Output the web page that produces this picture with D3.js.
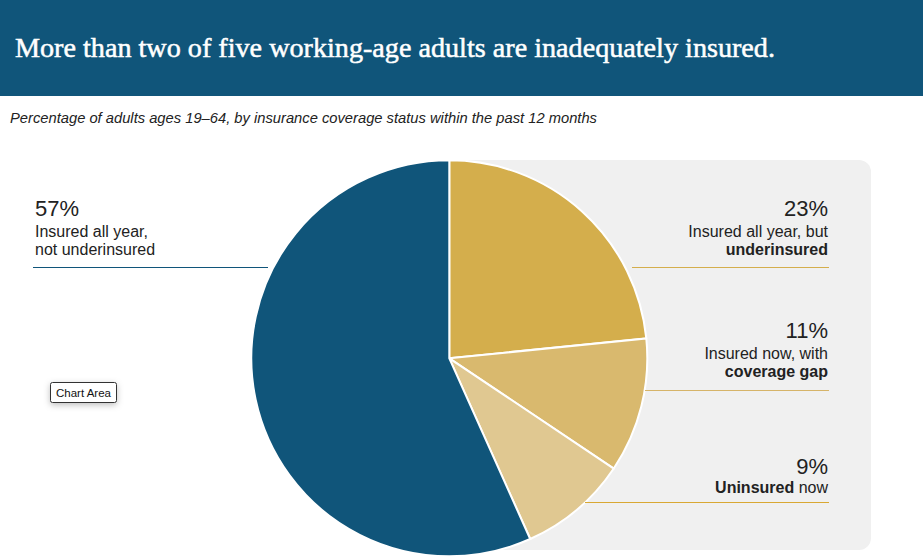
<!DOCTYPE html>
<html>
<head>
<meta charset="utf-8">
<script src="https://cdn.jsdelivr.net/npm/d3@7"></script>
<style>
  body { margin: 0; background: #fff; }
  svg { display: block; }
</style>
</head>
<body>
<div id="chart"></div>
<script>
const categories = ["Insured all year, but underinsured", "Insured now, with coverage gap", "Uninsured now", "Insured all year, not underinsured"];
const values = [23.4, 11.0, 8.9, 56.7];
const pctLabels = ["23%", "11%", "9%", "57%"];
const colors = ["#d4ae4c", "#d9b96e", "#e0c891", "#10557a"];
const lineColors = ["#d4ae4c", "#d6b469", "#d9a833", "#10557a"];
// label lines: [text, bold] pieces
const labelLines = [
    [[["Insured all year, but", false]], [["underinsured", true]]],
    [[["Insured now, with", false]], [["coverage gap", true]]],
    [[["Uninsured", true], [" now", false]]],
    [[["Insured all year,", false]], [["not underinsured", false]]]
];

const width = 923, height = 556;
const svg = d3.select("#chart").append("svg")
    .attr("width", width)
    .attr("height", height)
    .style("font-family", "Liberation Sans, Arial, sans-serif");

// header band
svg.append("rect").attr("width", width).attr("height", 96).attr("fill", "#10557a");
svg.append("text")
    .attr("x", 15).attr("y", 57)
    .attr("fill", "#fff")
    .attr("stroke", "#fff")
    .attr("stroke-width", 0.5)
    .attr("textLength", 760)
    .attr("lengthAdjust", "spacingAndGlyphs")
    .style("font-family", "Liberation Serif, serif")
    .style("font-size", "28px")
    .text("More than two of five working-age adults are inadequately insured.");

svg.append("text")
    .attr("x", 10).attr("y", 123)
    .attr("fill", "#222")
    .attr("textLength", 587)
    .attr("lengthAdjust", "spacingAndGlyphs")
    .style("font-size", "14px")
    .style("font-style", "italic")
    .text("Percentage of adults ages 19\u201364, by insurance coverage status within the past 12 months");

// gray panel
svg.append("rect")
    .attr("x", 436).attr("y", 160)
    .attr("width", 435).attr("height", 390)
    .attr("rx", 12)
    .attr("fill", "#f0f0f0");

const cx = 449.3, cy = 358.3, r = 198;
const pie = d3.pie().sort(null).value(d => d)(values);
const arc = d3.arc().innerRadius(0).outerRadius(r);

const g = svg.append("g").attr("transform", `translate(${cx},${cy})`);
g.selectAll("path")
    .data(pie)
    .enter().append("path")
    .attr("d", arc)
    .attr("fill", (d, i) => colors[i])
    .attr("stroke", "#fff")
    .attr("stroke-width", 2);

// labels
const labelPos = [
    {x: 828, y: 216, first: 21, anchor: "end", lineY: 267, lx0: 632, lx1: 829},
    {x: 828, y: 338, first: 21, anchor: "end", lineY: 390, lx0: 645, lx1: 829},
    {x: 828, y: 474, first: 19, anchor: "end", lineY: 502, lx0: 585, lx1: 829},
    {x: 35, y: 216, first: 21, anchor: "start", lineY: 267, lx0: 33, lx1: 268}
];

labelPos.forEach((p, i) => {
    svg.append("text")
        .attr("x", p.x).attr("y", p.y)
        .attr("text-anchor", p.anchor)
        .attr("fill", "#222")
        .style("font-size", "22px")
        .text(pctLabels[i]);
    labelLines[i].forEach((pieces, j) => {
        const t = svg.append("text")
            .attr("x", p.x).attr("y", p.y + p.first + j * 18)
            .attr("text-anchor", p.anchor)
            .attr("fill", "#222")
            .style("font-size", "16px");
        pieces.forEach(([txt, bold]) => {
            t.append("tspan")
                .style("font-weight", bold ? "bold" : "normal")
                .text(txt);
        });
    });
    svg.append("line")
        .attr("x1", p.lx0).attr("x2", p.lx1)
        .attr("y1", p.lineY + 0.5).attr("y2", p.lineY + 0.5)
        .attr("stroke", lineColors[i])
        .attr("stroke-width", 1);
});

// tooltip
const defs = svg.append("defs");
const f = defs.append("filter").attr("id", "sh").attr("x", "-50%").attr("y", "-50%").attr("width", "200%").attr("height", "200%");
f.append("feDropShadow").attr("dx", 0).attr("dy", 2).attr("stdDeviation", 3).attr("flood-opacity", 0.25);
svg.append("rect")
    .attr("x", 50.5).attr("y", 382.5)
    .attr("width", 66).attr("height", 20)
    .attr("rx", 2)
    .attr("fill", "#fff")
    .attr("stroke", "#333")
    .attr("filter", "url(#sh)");
svg.append("text")
    .attr("x", 83.5).attr("y", 396.5)
    .attr("text-anchor", "middle")
    .attr("fill", "#111")
    .style("font-size", "11.5px")
    .text("Chart Area");
</script>
</body>
</html>
